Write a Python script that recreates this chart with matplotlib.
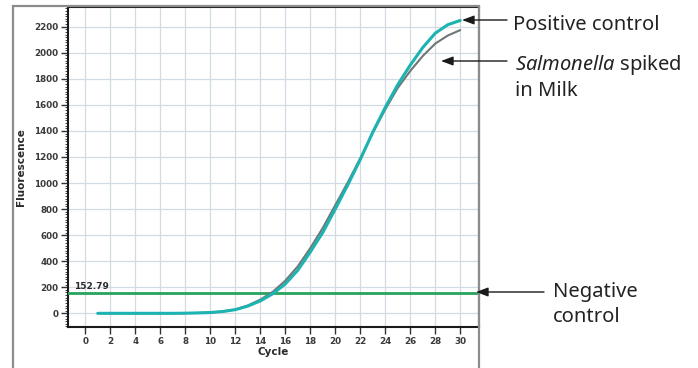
import matplotlib
matplotlib.use("Agg")
import matplotlib.pyplot as plt
from matplotlib.ticker import MultipleLocator
from matplotlib.patches import Rectangle, FancyArrowPatch

# qPCR amplification data (fluorescence per cycle)
cycles = list(range(1, 31))
positive_control = [0, 0, 0, 0, 0, 0, 0, 1, 3, 6,
                    14, 28, 55, 95, 150, 225, 330, 470, 620, 800,
                    985, 1180, 1390, 1580, 1755, 1905, 2040, 2150, 2215, 2248]
salmonella_milk = [0, 0, 0, 0, 0, 0, 0, 1, 3, 6,
                   14, 29, 60, 105, 165, 250, 360, 500, 655, 830,
                   1005, 1190, 1385, 1565, 1730, 1860, 1975, 2070, 2132, 2174]
threshold = 152.79

x_ticks = list(range(0, 31, 2))
y_ticks = list(range(0, 2201, 200))

W, H = 698, 368
fig = plt.figure(figsize=(W / 100, H / 100), dpi=100)
plt.rcParams["mathtext.fontset"] = "custom"
plt.rcParams["mathtext.it"] = "Noto Sans:italic"
plt.rcParams["mathtext.rm"] = "Noto Sans"

# outer frame around the plotting panel (open at the bottom)
fig.add_artist(Rectangle((13 / W, -0.05), (479 - 13) / W, (H - 6) / H + 0.05,
                         transform=fig.transFigure, fill=False,
                         edgecolor="#8c8c8c", lw=1.6, clip_on=False))

ax = fig.add_axes([68 / W, 1 - 327 / H, (479 - 68) / W, (327 - 6.5) / H])
ax.set_xlim(-1.38, 31.5)
ax.set_ylim(-105, 2355)

ax.set_xticks(x_ticks)
ax.set_yticks(y_ticks)
ax.yaxis.set_minor_locator(MultipleLocator(20))
ax.grid(True, which="major", color="#d3dbe2", lw=0.9)
ax.set_axisbelow(True)

ax.tick_params(axis="both", which="major", direction="out", length=5,
               width=1.0, color="#333333", pad=2)
ax.tick_params(axis="y", which="minor", direction="out", length=2.5,
               width=0.7, color="#444444")
for lab in ax.get_xticklabels() + ax.get_yticklabels():
    lab.set_fontsize(6.3)
    lab.set_fontweight("bold")
    lab.set_color("#3a3a3a")

for side in ["left", "bottom", "top"]:
    ax.spines[side].set_linewidth(1.5)
    ax.spines[side].set_color("#1a1a1a")
ax.spines["right"].set_linewidth(1.5)
ax.spines["right"].set_color("#6e6e6e")

ax.set_xlabel("Cycle", fontsize=7.5, fontweight="bold", color="#2a2a2a", labelpad=1)
ax.set_ylabel("Fluorescence", fontsize=7.5, fontweight="bold", color="#2a2a2a", labelpad=6)

# threshold (negative control) line
ax.axhline(threshold, color="#27a35c", lw=2.0, zorder=3)
ax.text(-0.9, threshold + 18, f"{threshold:.2f}", fontsize=6.5, fontweight="bold",
        color="#2a2a2a", va="bottom", ha="left")

# amplification curves
ax.plot(cycles, salmonella_milk, color="#6f7676", lw=1.5, zorder=4,
        solid_joinstyle="round", solid_capstyle="round")
ax.plot(cycles, positive_control, color="#1db3b3", lw=2.2, zorder=5,
        solid_joinstyle="round", solid_capstyle="round")

# callout arrows (figure pixel coordinates)
arrow = dict(arrowstyle="-|>,head_length=1.2,head_width=0.45", color="#1a1a1a",
             lw=1.0, shrinkA=0, shrinkB=0, mutation_scale=6, transform=None)
for (x0, x1, y) in [(507, 462, 20), (507, 441, 61), (544, 476, 292)]:
    fig.add_artist(FancyArrowPatch((x0, H - y), (x1, H - y), **arrow))

label_kw = dict(fontsize=14.5, family="Noto Sans", color="#222222", va="baseline")
fig.text(513 / W, (H - 30) / H, "Positive control", **label_kw)
fig.text(515 / W, (H - 70) / H, r"$\mathit{Salmonella}$ spiked", **label_kw)
fig.text(515 / W, (H - 96.5) / H, "in Milk", **label_kw)
fig.text(553 / W, (H - 296.5) / H, "Negative", **label_kw)
fig.text(553 / W, (H - 321.5) / H, "control", **label_kw)

fig.savefig("out.png", dpi=100)
